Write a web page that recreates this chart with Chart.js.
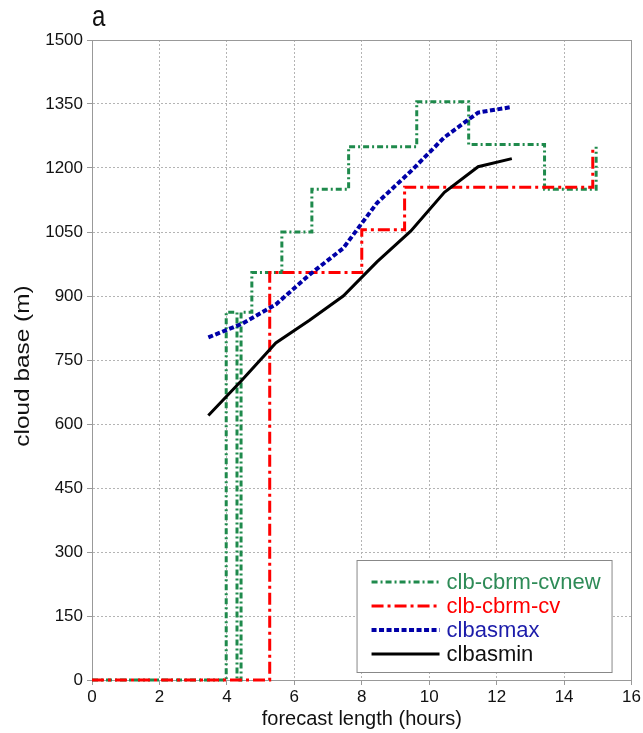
<!DOCTYPE html>
<html>
<head>
<meta charset="utf-8">
<script src="https://cdn.jsdelivr.net/npm/chart.js@4.4.1/dist/chart.umd.min.js"></script>
<style>
  html, body { margin: 0; padding: 0; background: #fff; }
  #wrap { width: 643px; height: 733px; }
</style>
</head>
<body>
<div id="wrap"><canvas id="graficoNuvem" width="643" height="733"></canvas></div>
<script>
// DADOS (horas de previsao / base da nuvem em metros)
const cvnewHoras = [0, 3.98, 4.3, 4.42, 4.74, 5.63, 6.52, 7.61, 9.63, 11.17, 13.42, 14.95];
const cvnewBase  = [0, 862, 0, 862, 955, 1050, 1150, 1250, 1355, 1255, 1150, 1250];

const cvHoras = [0, 5.27, 8.0, 9.27, 14.85];
const cvBase  = [0, 955, 1055, 1155, 1250];

const maxHoras = [3.45, 4.45, 5.45, 6.45, 7.45, 8.45, 9.45, 10.45, 11.45, 12.45];
const maxBase  = [803, 835, 880, 950, 1012, 1118, 1192, 1272, 1330, 1343];

const minHoras = [3.45, 4.45, 5.45, 6.45, 7.45, 8.45, 9.45, 10.45, 11.45, 12.45];
const minBase  = [620, 703, 790, 843, 900, 980, 1052, 1143, 1203, 1222];

const nomesSeries = ['clb-cbrm-cvnew', 'clb-cbrm-cv', 'clbasmax', 'clbasmin'];
const xLimites = [0, 16];
const yLimites = [0, 1500];
const tituloY = 'cloud base (m)';

function pontos(horas, valores) {
  return horas.map((h, i) => ({ x: h, y: valores[i] }));
}

Chart.defaults.font.family = '"Liberation Sans", Arial, sans-serif';
Chart.defaults.color = '#111';

// legenda dentro da area do grafico + letra do painel + titulo do eixo y
const legendaInterna = {
  id: 'legendaInterna',
  afterDraw(chart) {
    const ctx = chart.ctx;
    const area = chart.chartArea;
    const w = 255, h = 112;
    const x0 = area.right - 20 - w;
    const y0 = area.bottom - 8 - h;
    ctx.save();
    ctx.fillStyle = '#fff';
    ctx.fillRect(x0, y0, w, h);
    ctx.strokeStyle = '#888';
    ctx.lineWidth = 1;
    ctx.strokeRect(x0 + 0.5, y0 + 0.5, w, h);
    ctx.font = '22px "Liberation Sans", Arial, sans-serif';
    ctx.textBaseline = 'middle';
    chart.data.datasets.forEach((ds, i) => {
      const yy = y0 + 22 + i * 24;
      ctx.beginPath();
      ctx.setLineDash(ds.borderDash || []);
      ctx.strokeStyle = ds.borderColor;
      ctx.lineWidth = ds.borderWidth;
      ctx.moveTo(x0 + 15, yy);
      ctx.lineTo(x0 + 83, yy);
      ctx.stroke();
      ctx.setLineDash([]);
      ctx.fillStyle = ds.textColor;
      ctx.fillText(ds.label, x0 + 90, yy + 1);
    });

    // letra do painel
    ctx.fillStyle = '#111';
    ctx.font = '24px "Liberation Sans", Arial, sans-serif';
    ctx.textBaseline = 'alphabetic';
    ctx.save();
    ctx.translate(area.left, 26);
    ctx.scale(1, 1.2);
    ctx.fillText('a', 0, 0);
    ctx.restore();

    // titulo do eixo y (esticado como no original)
    ctx.save();
    ctx.translate(23, 366);
    ctx.rotate(-Math.PI / 2);
    ctx.scale(1.22, 1);
    ctx.font = '20px "Liberation Sans", Arial, sans-serif';
    ctx.textAlign = 'center';
    ctx.textBaseline = 'middle';
    ctx.fillText(tituloY, 0, 0);
    ctx.restore();
    ctx.restore();
  }
};

const ehBorda = (c) => c.tick && (c.tick.value === yLimites[1] || c.tick.value === xLimites[1]);
const gradeCor = (c) => ehBorda(c) ? '#999' : '#b4b4b4';
const gradeDash = (c) => ehBorda(c) ? [] : [2, 2];

const grafico = new Chart(document.getElementById('graficoNuvem'), {
  type: 'line',
  data: {
    datasets: [{
      label: nomesSeries[0],
      data: pontos(cvnewHoras, cvnewBase),
      borderColor: '#1f8a4c',
      textColor: '#2e8b57',
      borderWidth: 3,
      borderDash: [6, 3, 2, 3],
      stepped: true,
      clip: false,
      order: 3
    }, {
      label: nomesSeries[1],
      data: pontos(cvHoras, cvBase),
      borderColor: '#ff0000',
      textColor: '#ff0000',
      borderWidth: 3,
      borderDash: [12, 4, 3, 4],
      stepped: true,
      clip: false,
      order: 2
    }, {
      label: nomesSeries[2],
      data: pontos(maxHoras, maxBase),
      borderColor: '#0000a8',
      textColor: '#1c1caa',
      borderWidth: 4,
      borderDash: [5, 2.5],
      clip: false,
      order: 1
    }, {
      label: nomesSeries[3],
      data: pontos(minHoras, minBase),
      borderColor: '#000',
      textColor: '#111',
      borderWidth: 3,
      clip: false,
      order: 0
    }]
  },
  options: {
    responsive: false,
    animation: false,
    elements: { point: { radius: 0 }, line: { tension: 0 } },
    layout: { padding: { top: 40, right: 11, left: 0, bottom: 0 } },
    plugins: {
      legend: { display: false },
      tooltip: { enabled: false }
    },
    scales: {
      x: {
        type: 'linear',
        min: xLimites[0],
        max: xLimites[1],
        afterFit(s) { s.height = 53; },
        ticks: { stepSize: 2, padding: 2, maxRotation: 0, font: { size: 17 }, color: '#111' },
        grid: { color: gradeCor, tickColor: '#999', tickLength: 5 },
        border: { color: '#999', dash: gradeDash },
        title: { display: true, text: 'forecast length (hours)', font: { size: 20 }, color: '#111', padding: { top: 0, bottom: 2 } }
      },
      y: {
        min: yLimites[0],
        max: yLimites[1],
        afterFit(s) { s.width = 92; },
        ticks: { stepSize: 150, padding: 4, font: { size: 17 }, color: '#111', callback: (v) => String(v) },
        grid: { color: gradeCor, tickColor: '#999', tickLength: 5 },
        border: { color: '#999', dash: gradeDash }
      }
    }
  },
  plugins: [legendaInterna]
});
</script>
</body>
</html>
